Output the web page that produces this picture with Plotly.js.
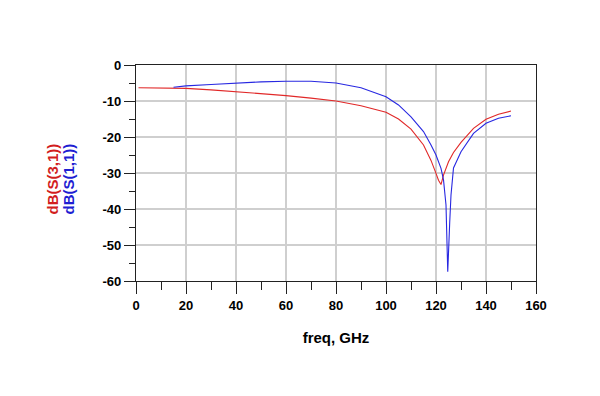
<!DOCTYPE html>
<html>
<head>
<meta charset="utf-8">
<script src="https://cdn.plot.ly/plotly-3.0.1.min.js"></script>
<style>html,body{margin:0;padding:0;background:#fff;}#chart{width:600px;height:396px;}</style>
</head>
<body>
<div id="chart"></div>
<script>
const freqS31 = [1, 10, 20, 30, 40, 50, 60, 70, 80, 90, 100, 105, 110, 115, 118, 120, 121, 122, 123, 125, 127, 130, 135, 140, 145, 150];
const dbS31 = [-6.3, -6.3, -6.5, -6.9, -7.4, -7.9, -8.5, -9.2, -10.0, -11.3, -13.1, -15.0, -17.8, -22.2, -26.5, -30.1, -32.0, -33.2, -30.6, -26.9, -24.3, -21.5, -17.6, -15.1, -13.7, -12.8];
const freqS11 = [15, 20, 30, 40, 50, 60, 70, 80, 90, 100, 105, 110, 115, 118, 120, 122, 123, 124, 124.7, 125.5, 126, 127, 130, 135, 140, 145, 150];
const dbS11 = [-6.2, -5.8, -5.4, -5.0, -4.7, -4.5, -4.5, -5.0, -6.3, -8.8, -11.1, -14.4, -18.5, -22.2, -25.0, -28.7, -31.9, -38.9, -57.4, -43.5, -36.1, -28.6, -24.1, -19.0, -16.2, -14.8, -14.1];
const xTicks = [0, 20, 40, 60, 80, 100, 120, 140, 160];
const yTicks = [0, -10, -20, -30, -40, -50, -60];
const seriesNames = ['dB(S(3,1))', 'dB(S(1,1))'];
const xTitle = 'freq, GHz';

const fontFam = 'Liberation Sans, Arial, sans-serif';
const traces = [
  {x: freqS31, y: dbS31, mode: 'lines', name: seriesNames[0], line: {color: 'rgb(225,40,40)', width: 1.1}},
  {x: freqS11, y: dbS11, mode: 'lines', name: seriesNames[1], line: {color: 'rgb(40,40,225)', width: 1.1}}
];
const axisCommon = {
  showline: true, linecolor: '#222', linewidth: 1.2, mirror: true,
  showgrid: true, gridcolor: '#cfcfcf', gridwidth: 1.2,
  zeroline: false, ticks: 'outside', ticklen: 12, tickcolor: '#222', tickwidth: 1,
  tickfont: {family: fontFam, size: 13, color: '#000', weight: 'bold'}
};
const layout = {
  width: 600, height: 396,
  margin: {l: 136, r: 64, t: 65, b: 115},
  paper_bgcolor: '#fff', plot_bgcolor: '#fff',
  showlegend: false,
  xaxis: Object.assign({}, axisCommon, {
    range: [0, 160], tickmode: 'array', tickvals: xTicks, ticktext: xTicks.map(String),
    minor: {dtick: 10, tick0: 0, ticklen: 8, ticks: 'outside', tickcolor: '#222', showgrid: false},
    title: {text: '<b>' + xTitle + '</b>', font: {family: fontFam, size: 15, color: '#000'}, standoff: 20}
  }),
  yaxis: Object.assign({}, axisCommon, {
    range: [-60, 0], tickmode: 'array', tickvals: yTicks, ticktext: yTicks.map(String), ticklen: 11,
    minor: {dtick: 5, tick0: 0, ticklen: 6, ticks: 'outside', tickcolor: '#222', showgrid: false}
  }),
  annotations: [
    {text: '<b>' + seriesNames[0] + '</b>', xref: 'paper', yref: 'paper', x: -0.21, y: 0.47, xanchor: 'center', yanchor: 'middle', textangle: -90, showarrow: false, font: {family: fontFam, size: 15, color: 'rgb(210,30,30)'}},
    {text: '<b>' + seriesNames[1] + '</b>', xref: 'paper', yref: 'paper', x: -0.17, y: 0.47, xanchor: 'center', yanchor: 'middle', textangle: -90, showarrow: false, font: {family: fontFam, size: 15, color: 'rgb(30,30,210)'}}
  ]
};
Plotly.newPlot('chart', traces, layout, {staticPlot: true, displayModeBar: false});
</script>
</body>
</html>
